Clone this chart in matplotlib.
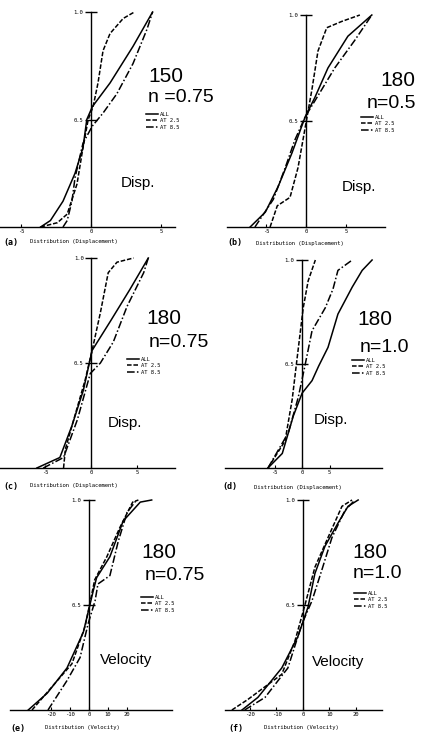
import matplotlib
matplotlib.use("Agg")
import matplotlib.pyplot as plt

W, H = 429, 736

# --- data (cumulative distribution) ---
a_all_x = [-3.6, -2.9, -2.0, -1.14, -0.57, -0.3, 0.1, 1.36, 3.0, 4.4]
a_all_p = [0, 0.03, 0.12, 0.25, 0.37, 0.5, 0.56, 0.67, 0.84, 1.0]
a_25_x = [-3.6, -2.4, -1.7, -1.0, -0.57, -0.2, 0.15, 0.5, 0.86, 1.36, 2.3, 3.1]
a_25_p = [0, 0.02, 0.06, 0.2, 0.37, 0.5, 0.56, 0.67, 0.82, 0.9, 0.97, 1.0]
a_85_x = [-2.0, -1.7, -1.36, -1.14, -0.57, 0.1, 0.86, 1.85, 3.0, 4.0, 4.4]
a_85_p = [0, 0.03, 0.12, 0.23, 0.39, 0.47, 0.53, 0.62, 0.76, 0.92, 1.0]

b_all_x = [-7, -5.1, -3.5, -1.75, -0.1, 1.1, 2.75, 5.25, 8.25]
b_all_p = [0, 0.07, 0.19, 0.35, 0.52, 0.61, 0.75, 0.9, 1.0]
b_25_x = [-4.5, -3.6, -2.0, -1.0, -0.1, 0.75, 1.5, 2.6, 4.5, 6.75]
b_25_p = [0, 0.1, 0.14, 0.28, 0.47, 0.65, 0.83, 0.94, 0.97, 1.0]
b_85_x = [-6.4, -4.1, -2.6, -1.4, -0.1, 2.0, 3.6, 6.1, 8.25]
b_85_p = [0, 0.13, 0.28, 0.41, 0.52, 0.65, 0.75, 0.88, 1.0]

c_all_x = [-5.9, -3.4, -2.1, -0.85, 0.1, 2.1, 4.2, 6.2]
c_all_p = [0, 0.05, 0.2, 0.37, 0.56, 0.7, 0.85, 1.0]
c_25_x = [-3.0, -2.8, -1.7, -0.65, 0.1, 1.0, 1.85, 2.8, 4.6]
c_25_p = [0, 0.09, 0.26, 0.42, 0.56, 0.74, 0.93, 0.98, 1.0]
c_85_x = [-5.2, -3.0, -1.5, -0.1, 1.0, 2.4, 3.9, 5.7, 6.2]
c_85_p = [0, 0.05, 0.23, 0.45, 0.5, 0.6, 0.77, 0.93, 1.0]

d_all_x = [-6.2, -3.6, -1.6, 0, 1.8, 3.0, 4.7, 6.5, 9.1, 10.9, 12.7]
d_all_p = [0, 0.07, 0.25, 0.36, 0.42, 0.49, 0.58, 0.74, 0.87, 0.95, 1.0]
d_25_x = [-6.2, -3.1, -1.8, -0.9, 0.2, 1.1, 2.4]
d_25_p = [0, 0.13, 0.33, 0.53, 0.77, 0.9, 1.0]
d_85_x = [-6.2, -2.5, -0.7, 0.5, 1.8, 4.2, 5.6, 6.5, 9.1]
d_85_p = [0, 0.17, 0.34, 0.49, 0.66, 0.77, 0.86, 0.95, 1.0]

e_all_x = [-32, -22, -11.6, -3, 2.3, 4, 11, 18, 27, 33]
e_all_p = [0, 0.08, 0.2, 0.37, 0.57, 0.63, 0.73, 0.9, 0.99, 1.0]
e_25_x = [-30, -20.5, -9, -2, 3, 9.4, 16.3, 23, 26]
e_25_p = [0, 0.1, 0.22, 0.4, 0.62, 0.73, 0.87, 0.99, 1.0]
e_85_x = [-21.6, -11.6, -4.7, -0.5, 3.2, 4.7, 11, 15.3, 20, 25]
e_85_p = [0, 0.14, 0.25, 0.41, 0.52, 0.6, 0.64, 0.8, 0.94, 1.0]

f_all_x = [-23, -17, -8, -1.9, 1.9, 4.5, 8.3, 13.2, 17, 20.8]
f_all_p = [0, 0.06, 0.2, 0.35, 0.49, 0.65, 0.78, 0.89, 0.97, 1.0]
f_25_x = [-26.8, -20.8, -8, -3, 0.75, 4.5, 9.4, 14.7, 18.5]
f_25_p = [0, 0.05, 0.17, 0.33, 0.5, 0.68, 0.82, 0.97, 1.0]
f_85_x = [-22, -14.3, -5.7, -0.4, 3.4, 7.2, 10.9, 15.8, 19.6]
f_85_p = [0, 0.06, 0.2, 0.41, 0.52, 0.67, 0.82, 0.95, 1.0]

disp_ticks = [-5, 0, 5]
vel_ticks = [-20, -10, 0, 10, 20]
series_labels = ["ALL", "AT 2.5", "AT 8.5"]

panels = [
    # letter, curves, xlim, ticks, (left px, bottom px, width px, height px)
    ("a", [(a_all_x, a_all_p), (a_25_x, a_25_p), (a_85_x, a_85_p)], (-6.5, 6.0), disp_ticks, (0, 227, 175, 215)),
    ("b", [(b_all_x, b_all_p), (b_25_x, b_25_p), (b_85_x, b_85_p)], (-9.9, 9.9), disp_ticks, (227, 227, 158, 212)),
    ("c", [(c_all_x, c_all_p), (c_25_x, c_25_p), (c_85_x, c_85_p)], (-9.9, 9.1), disp_ticks, (0, 468, 175, 210)),
    ("d", [(d_all_x, d_all_p), (d_25_x, d_25_p), (d_85_x, d_85_p)], (-14.0, 14.5), disp_ticks, (225, 468, 157, 208)),
    ("e", [(e_all_x, e_all_p), (e_25_x, e_25_p), (e_85_x, e_85_p)], (-41.6, 43.7), vel_ticks, (10, 710, 162, 210)),
    ("f", [(f_all_x, f_all_p), (f_25_x, f_25_p), (f_85_x, f_85_p)], (-29.4, 29.8), vel_ticks, (225, 710, 157, 210)),
]

# big handwritten annotations: (num, n text, num pos, n pos, legend pos, word, word pos)
notes = {
    "a": ("150", "n =0.75", (148, 76), (148, 98), (146, 112), "Disp.", (121, 183)),
    "b": ("180", "n=0.5", (380, 81), (367, 103), (361, 115), "Disp.", (342, 187)),
    "c": ("180", "n=0.75", (146, 318), (149, 343), (127, 357), "Disp.", (108, 423)),
    "d": ("180", "n=1.0", (357, 320), (360, 347), (352, 358), "Disp.", (314, 420)),
    "e": ("180", "n=0.75", (141, 553), (145, 575), (141, 595), "Velocity", (100, 660)),
    "f": ("180", "n=1.0", (352, 552), (353, 574), (354, 591), "Velocity", (312, 662)),
}
captions = {
    "a": ((3, 242), (30, 242), "Distribution (Displacement)"),
    "b": ((227, 243), (256, 243), "Distribution (Displacement)"),
    "c": ((3, 486), (30, 486), "Distribution (Displacement)"),
    "d": ((222, 487), (254, 487), "Distribution (Displacement)"),
    "e": ((10, 728), (45, 728), "Distribution (Velocity)"),
    "f": ((228, 728), (264, 728), "Distribution (Velocity)"),
}

styles = [dict(ls="-"), dict(ls=(0, (3, 1.2))), dict(ls=(0, (5, 1.5, 1, 1.5)))]
big_font = ["Liberation Sans", "DejaVu Sans"]
small_font = "DejaVu Sans Mono"


def fx(px):
    return px / W


def fy(py):
    return 1 - py / H


fig = plt.figure(figsize=(W / 100, H / 100), dpi=100)
fig.patch.set_facecolor("white")

for letter, curves, xlim, ticks, (l, b, w, h) in panels:
    ax = fig.add_axes([fx(l), fy(b), w / W, h / H])
    ax.set_facecolor("none")
    handles = []
    for (xs, ps), st, lab in zip(curves, styles, series_labels):
        ln, = ax.plot(xs, ps, color="black", lw=1.1, clip_on=False, label=lab, **st)
        handles.append(ln)
    ax.set_xlim(*xlim)
    ax.set_ylim(0, 1.0)
    for s in ["top", "right"]:
        ax.spines[s].set_visible(False)
    ax.spines["left"].set_position(("data", 0))
    ax.spines["left"].set_bounds(0, 1.0)
    ax.spines["left"].set_linewidth(1.0)
    ax.spines["bottom"].set_linewidth(1.0)
    ax.set_xticks(ticks)
    ax.set_xticklabels([str(t) for t in ticks], fontsize=4, family=small_font)
    ax.tick_params(axis="x", direction="in", length=2, width=0.8, pad=1.5)
    ax.set_yticks([0.5, 1.0])
    ax.set_yticklabels(["0.5", "1.0"], fontsize=4, family=small_font)
    ax.tick_params(axis="y", direction="inout", length=9, width=1.0, pad=1)

    num, ntxt, npos, nnpos, lpos, word, wpos = notes[letter]
    fig.text(fx(npos[0]), fy(npos[1]), num, fontsize=15, family=big_font, va="center")
    fig.text(fx(nnpos[0]), fy(nnpos[1]), ntxt, fontsize=14, family=big_font, va="center")
    fig.text(fx(wpos[0]), fy(wpos[1]), word, fontsize=11, family=big_font, va="center")
    ax.legend(handles=handles, loc="upper left", bbox_to_anchor=(fx(lpos[0]), fy(lpos[1])),
              bbox_transform=fig.transFigure, frameon=False, handlelength=2.2,
              handletextpad=0.3, labelspacing=0.25, borderpad=0, borderaxespad=0,
              prop={"family": small_font, "size": 4})

    (cx, cy), (tx, ty), ctext = captions[letter]
    fig.text(fx(cx), fy(cy), "(" + letter + ")", fontsize=6, family=small_font,
             weight="bold", va="center")
    fig.text(fx(tx), fy(ty), ctext, fontsize=4, family=small_font, va="center")

fig.savefig("out.png", dpi=100, facecolor="white")
